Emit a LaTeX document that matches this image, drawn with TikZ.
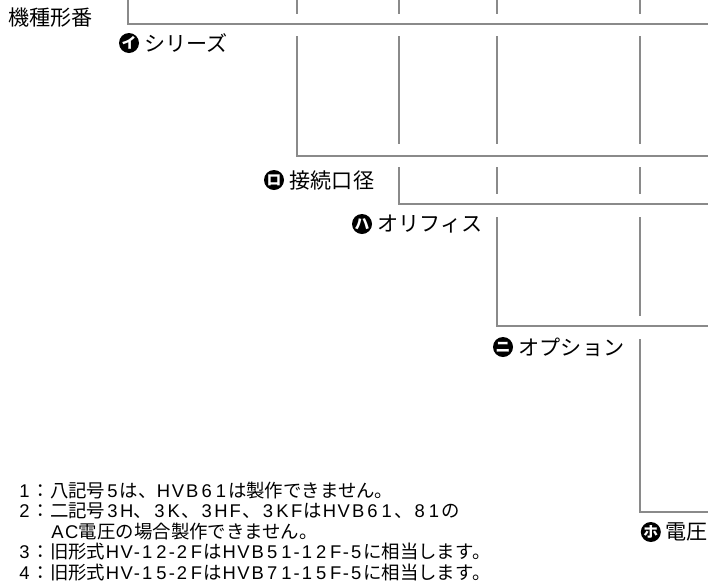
\documentclass[tikz,border=0pt]{standalone}
\usepackage{fontspec}
\newfontfamily\jpfont{Noto Sans CJK JP}
\newfontfamily\latfont{Liberation Sans}
% spaced latin letters, one cell each
\ExplSyntaxOn
\NewDocumentCommand \ltn { m }
  {
    \tl_map_inline:nn { #1 }
      {
        \str_if_eq:nnTF { ##1 } { - }
          { { \latfont - } }
          { \makebox[10.2pt][c]{ \latfont ##1 } }
      }
  }
\ExplSyntaxOff
\definecolor{linegray}{RGB}{138,138,138}
\usetikzlibrary{positioning}

\begin{document}
\begin{tikzpicture}[
    line/.style={draw=linegray, line width=1.7pt},
    lbl/.style={inner sep=0pt, font=\jpfont\fontsize{15}{18}\selectfont},
    icon/.style={circle, fill=black, text=white, inner sep=0pt, minimum size=0.5cm, font=\jpfont\bfseries\fontsize{10.5}{11}\selectfont},
    note/.style={inner sep=0pt, anchor=west, font=\jpfont\fontsize{13.1}{15}\selectfont}
  ]
    \useasboundingbox (0,0) rectangle (17.7,-14.6);

    \draw[line] (3.2,0) -- (3.2,-0.6) -- (17.7,-0.6);
    \foreach \x in {7.425, 9.975, 12.425, 16} \draw[line] (\x,0) -- (\x,-0.35);
    \draw[line] (7.425,-0.9) -- (7.425,-3.9) -- (17.7,-3.9);
    \foreach \x in {9.975, 12.425, 16} \draw[line] (\x,-0.9) -- (\x,-3.6);
    \draw[line] (9.975,-4.175) -- (9.975,-5.1) -- (17.7,-5.1);
    \foreach \x in {12.425, 16} \draw[line] (\x,-4.175) -- (\x,-4.85);
    \draw[line] (12.425,-5.425) -- (12.425,-8.15) -- (17.7,-8.15);
    \draw[line] (16,-5.425) -- (16,-7.9);
    \draw[line] (16,-8.475) -- (16,-12.8) -- (17.7,-12.8);

    \node[lbl, anchor=west] (kishu) at (0.2,-0.45) {機種形番};

    \node[icon] (i) at (3.225,-1.075) {イ};
    \node[lbl, right=0.13cm of i] (series) {シリーズ};
    \node[icon] (ro) at (6.85,-4.5) {ロ};
    \node[lbl, right=0.13cm of ro] (port) {接続口径};
    \node[icon] (ha) at (9.05,-5.6) {ハ};
    \node[lbl, right=0.13cm of ha] (orifice) {オリフィス};
    \node[icon] (ni) at (12.575,-8.675) {ニ};
    \node[lbl, right=0.13cm of ni] (option) {オプション};
    \node[icon] (ho) at (16.27,-13.3) {ホ};
    \node[lbl, right=0.1cm of ho] (volt) {電圧};

    %\node at (0.5,-12) {notes};
    \node[note] (n1) at (0.425,-12.275) {\ltn{1}：八記号\ltn{5}は、\ltn{HVB61}は製作できません。};
    \node[note] (n2) at (0.425,-12.783) {\ltn{2}：二記号\ltn{3H}、\ltn{3K}、\ltn{3HF}、\ltn{3KF}は\ltn{HVB61}、\ltn{81}の};
    \node[note] (n3) at (1.25,-13.29) {\ltn{AC}電圧の場合製作できません。};
    \node[note] (n4) at (0.425,-13.798) {\ltn{3}：旧形式\ltn{HV-12-2F}は\ltn{HVB51-12F-5}に相当します。};
    \node[note] (n5) at (0.425,-14.305) {\ltn{4}：旧形式\ltn{HV-15-2F}は\ltn{HVB71-15F-5}に相当します。};
  \end{tikzpicture}
\end{document}
